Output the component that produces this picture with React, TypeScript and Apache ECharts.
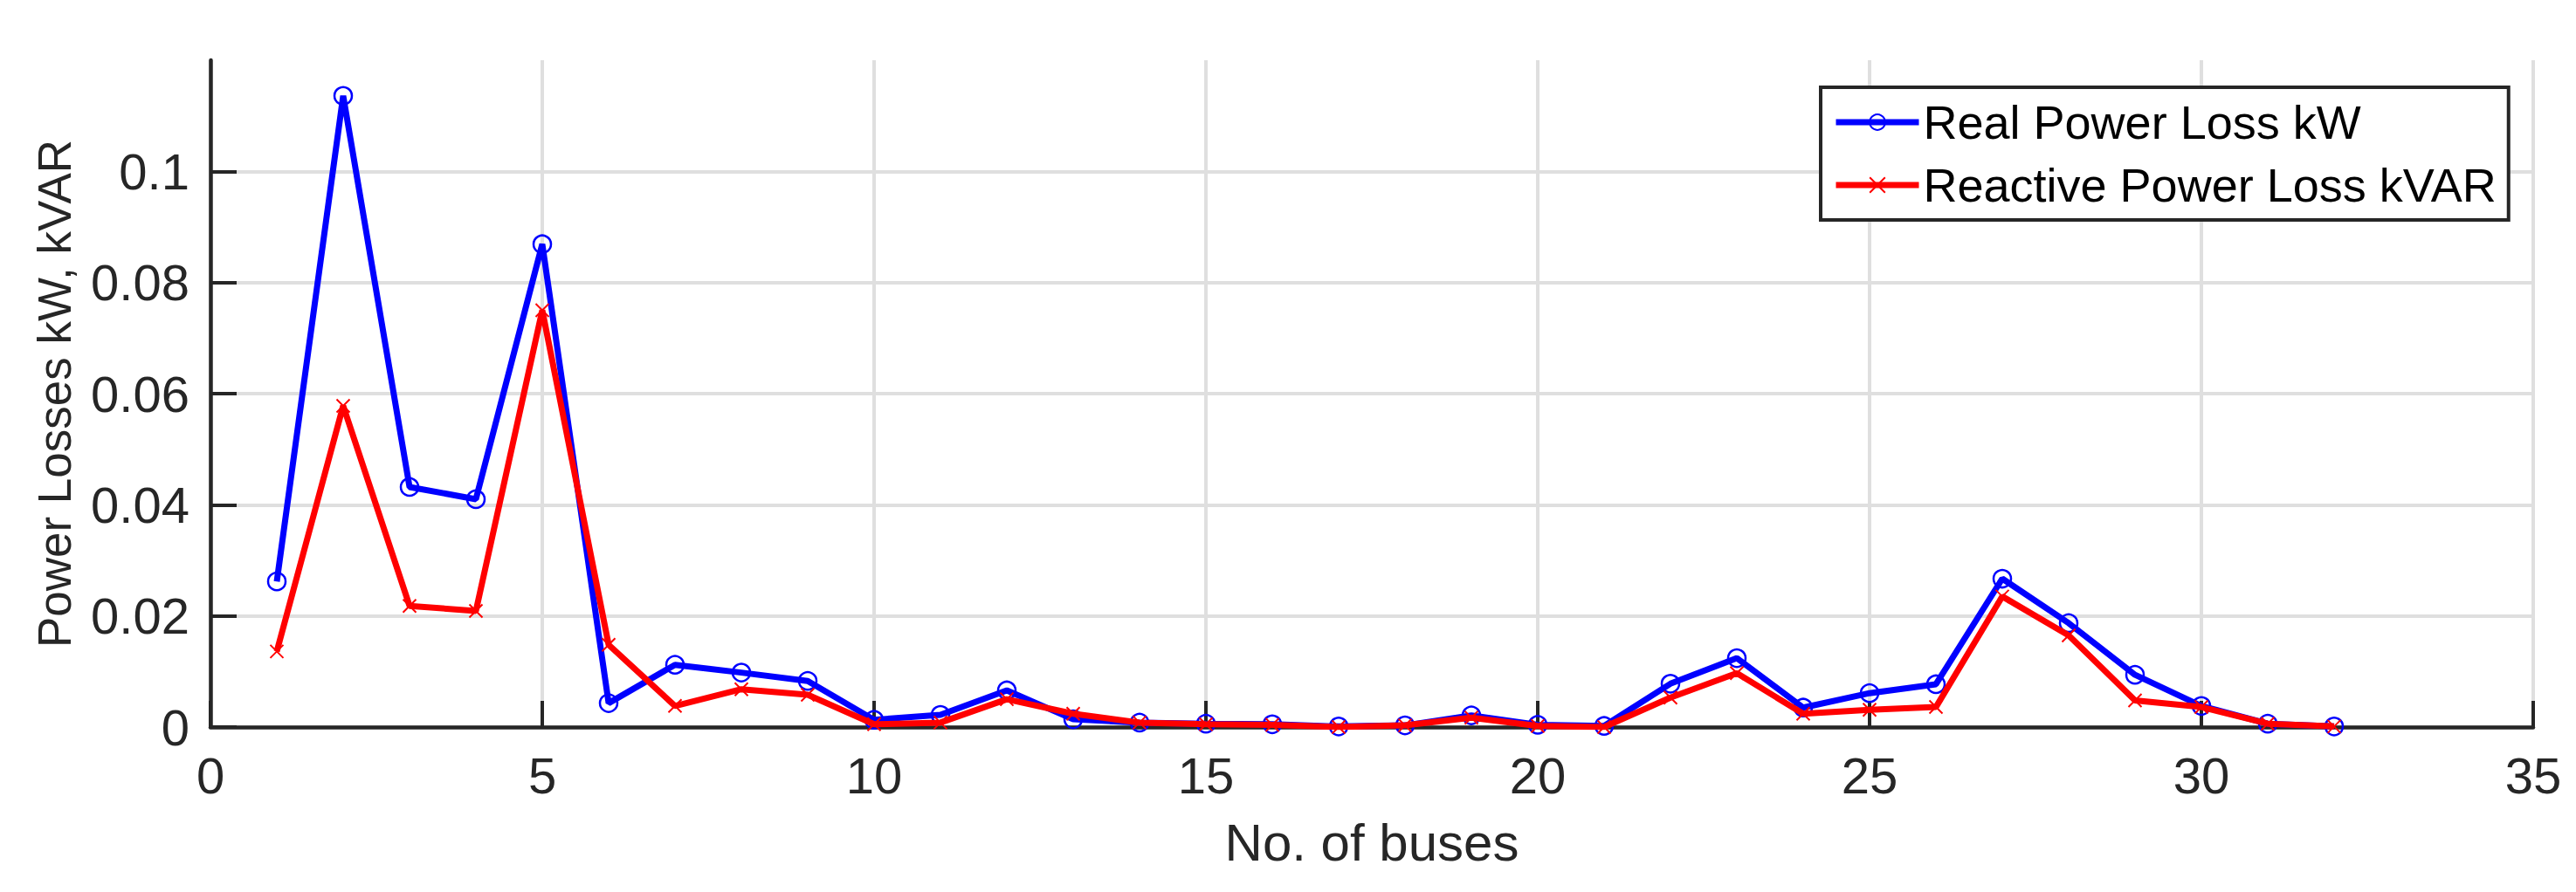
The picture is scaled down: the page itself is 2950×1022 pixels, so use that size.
import React, { useEffect, useRef } from "react";
import * as echarts from "echarts";

const buses: number[] = [
  1, 2, 3, 4, 5, 6, 7, 8, 9, 10, 11, 12, 13, 14, 15, 16,
  17, 18, 19, 20, 21, 22, 23, 24, 25, 26, 27, 28, 29, 30, 31, 32,
];

const realLoss: number[] = [
  0.0262, 0.1136, 0.0432, 0.041, 0.0869, 0.0043, 0.0112, 0.0098,
  0.0083, 0.0013, 0.0022, 0.0066, 0.0014, 0.0008, 0.0006, 0.0005,
  0.0001, 0.0003, 0.0021, 0.0004, 0.0002, 0.0078, 0.0124, 0.0035,
  0.0061, 0.0077, 0.0267, 0.0187, 0.0094, 0.0038, 0.0006, 0.0001,
];

const reactiveLoss: number[] = [
  0.0136, 0.0578, 0.0218, 0.0209, 0.075, 0.0148, 0.0038, 0.0068,
  0.0058, 0.0005, 0.0008, 0.005, 0.0024, 0.0008, 0.0005, 0.0004,
  0.0, 0.0003, 0.0017, 0.0002, 0.0, 0.0053, 0.0097, 0.0024,
  0.0031, 0.0036, 0.0235, 0.0165, 0.0048, 0.0036, 0.0006, 0.0001,
];

const seriesNames: string[] = ["Real Power Loss kW", "Reactive Power Loss kVAR"];
const xAxisName = "No. of buses";
const yAxisName = "Power Losses kW, kVAR";

const FONT = "'Liberation Sans', Arial, Helvetica, sans-serif";
const AXIS_COLOR = "#262626";
const GRID_COLOR = "#dfdfdf";

export default function App() {
  const ref = useRef<HTMLDivElement>(null);

  useEffect(() => {
    document.body.style.margin = "0";
    if (!ref.current) return;
    const chart = echarts.init(ref.current, null, { renderer: "svg" });

    const realData = buses.map((b, i) => [b, realLoss[i]]);
    const reactiveData = buses.map((b, i) => [b, reactiveLoss[i]]);

    chart.setOption({
      animation: false,
      backgroundColor: "#ffffff",
      textStyle: { fontFamily: FONT },
      grid: { left: 241, right: 49, top: 69, bottom: 189, containLabel: false },
      xAxis: {
        type: "value",
        min: 0,
        max: 35,
        interval: 5,
        name: xAxisName,
        nameLocation: "middle",
        nameGap: 102,
        nameTextStyle: { fontSize: 60, color: AXIS_COLOR, fontFamily: FONT },
        axisLine: { show: true, onZero: false, lineStyle: { color: AXIS_COLOR, width: 4.5 } },
        axisTick: { show: true, inside: true, length: 30, lineStyle: { color: AXIS_COLOR, width: 4 } },
        axisLabel: { fontSize: 58, color: AXIS_COLOR, margin: 26, fontFamily: FONT },
        splitLine: { show: true, lineStyle: { color: GRID_COLOR, width: 4 } },
      },
      yAxis: {
        type: "value",
        min: 0,
        max: 0.12,
        interval: 0.02,
        name: yAxisName,
        nameLocation: "middle",
        nameRotate: 90,
        nameGap: 152,
        nameTextStyle: { fontSize: 53, color: AXIS_COLOR, fontFamily: FONT },
        axisLine: { show: true, onZero: false, lineStyle: { color: AXIS_COLOR, width: 4.5 } },
        axisTick: { show: true, inside: true, length: 30, lineStyle: { color: AXIS_COLOR, width: 4 } },
        axisLabel: {
          fontSize: 58,
          color: AXIS_COLOR,
          margin: 24,
          fontFamily: FONT,
          showMaxLabel: false,
          formatter: (v: number) => (v === 0 ? "0" : String(parseFloat(v.toFixed(4)))),
        },
        splitLine: { show: true, showMaxLine: false, lineStyle: { color: GRID_COLOR, width: 4 } },
      },
      legend: {
        show: true,
        orient: "vertical",
        left: 2085,
        top: 100,
        padding: [13, 14, 13, 14],
        itemGap: 18,
        itemWidth: 95,
        itemHeight: 22,
        backgroundColor: "#ffffff",
        borderColor: AXIS_COLOR,
        borderWidth: 4,
        lineStyle: { width: 7 },
        textStyle: { fontSize: 54, color: "#000000", fontFamily: FONT },
        data: seriesNames,
      },
      series: [
        {
          name: seriesNames[0],
          type: "line",
          data: realData,
          symbol: "circle",
          symbolSize: [20, 20],
          showAllSymbol: true,
          lineStyle: { color: "#0000ff", width: 7 },
          itemStyle: { color: "rgba(0,0,0,0)", borderColor: "#0000ff", borderWidth: 2.5 },
          z: 3,
        },
        {
          name: seriesNames[1],
          type: "line",
          data: reactiveData,
          symbol: "path://M0,0L10,10M10,0L0,10",
          symbolSize: 15,
          showAllSymbol: true,
          lineStyle: { color: "#ff0000", width: 7 },
          itemStyle: { color: "#ff0000", borderColor: "#ff0000", borderWidth: 2 },
          z: 4,
        },
      ],
    });

    return () => {
      chart.dispose();
    };
  }, []);

  return <div ref={ref} style={{ width: 2950, height: 1022 }} />;
}
